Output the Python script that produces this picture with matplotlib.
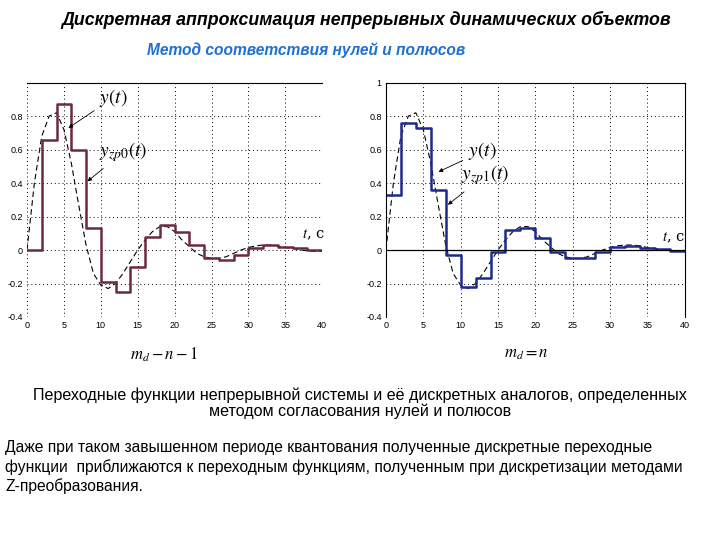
import numpy as np
import matplotlib
matplotlib.use("Agg")
import matplotlib.pyplot as plt

plt.rcParams["font.family"] = ["Liberation Sans", "DejaVu Sans"]
plt.rcParams["mathtext.fontset"] = "stix"

# continuous step response y(t), read at 1 s spacing
t_cont = np.arange(0, 41)
y_cont = [0.0, 0.40, 0.68, 0.80, 0.82, 0.72, 0.52, 0.27, 0.03, -0.14,
          -0.21, -0.23, -0.20, -0.14, -0.07, 0.0, 0.06, 0.11, 0.14, 0.14,
          0.11, 0.06, 0.02, -0.02, -0.04, -0.05, -0.05, -0.04, -0.02, 0.0,
          0.015, 0.025, 0.03, 0.03, 0.025, 0.015, 0.01, 0.0, -0.005, -0.008, -0.008]

# discrete responses, sample period 2 s
t_disc = np.arange(0, 42, 2)
y_zp0 = [0.0, 0.66, 0.87, 0.60, 0.13, -0.19, -0.25, -0.10, 0.08, 0.15,
         0.11, 0.03, -0.05, -0.06, -0.03, 0.01, 0.03, 0.02, 0.01, 0.0, 0.0]
y_zp1 = [0.33, 0.76, 0.73, 0.36, -0.03, -0.22, -0.17, -0.01, 0.12, 0.13,
         0.07, -0.01, -0.05, -0.045, -0.01, 0.02, 0.025, 0.015, 0.005, -0.005, -0.005]

fig = plt.figure(figsize=(7.2, 5.4), dpi=100)

fig.text(0.085, 0.963, "Дискретная аппроксимация непрерывных динамических объектов",
         fontsize=12.8, fontweight="bold", style="italic", va="center")
fig.text(0.204, 0.908, "Метод соответствия нулей и полюсов",
         fontsize=11.2, fontweight="bold", style="italic", color="#1f6fd6", va="center")


def panel(ax, yd, color, ylab, lab_pos, arr_y, arr_d, tc_pos, full_frame, yticks):
    ax.plot(t_cont, y_cont, color="black", lw=0.8, ls=(0, (5, 3)))
    ax.step(t_disc, yd, where="post", color=color, lw=1.8)
    ax.set_xlim(0, 40); ax.set_ylim(-0.4, 1.0)
    ax.set_xticks(range(0, 41, 5))
    ax.set_yticks(yticks)
    ax.set_yticklabels([f"{v:g}" for v in yticks])
    ax.tick_params(labelsize=6.5, length=0, pad=3)
    ax.grid(True, ls=(0, (1, 3)), color="black", lw=0.7)
    for s in ("left", "right", "bottom"):
        ax.spines[s].set_visible(False)
    if full_frame:
        ax.spines["left"].set_visible(True)
        ax.spines["right"].set_visible(True)
        ax.axhline(0, color="black", lw=0.9)
    ax.annotate("$y(t)$", xy=arr_y, xytext=lab_pos[0], fontsize=14,
                arrowprops=dict(arrowstyle="-|>", lw=0.6, color="black", mutation_scale=6))
    ax.annotate(ylab, xy=arr_d, xytext=lab_pos[1], fontsize=14,
                arrowprops=dict(arrowstyle="-|>", lw=0.6, color="black", mutation_scale=6))
    ax.text(tc_pos[0], tc_pos[1], "$t$, c", fontsize=10.5, family="DejaVu Serif")


ax1 = fig.add_axes([0.0375, 0.413, 0.41, 0.434])
panel(ax1, y_zp0, "#6b2b3f", r"$y_{zp0}(t)$", [(9.8, 0.88), (9.8, 0.56)],
      (5.3, 0.72), (7.9, 0.40), (37.2, 0.07), False,
      [-0.4, -0.2, 0, 0.2, 0.4, 0.6, 0.8])

ax2 = fig.add_axes([0.536, 0.413, 0.415, 0.434])
panel(ax2, y_zp1, "#1c2a8e", r"$y_{zp1}(t)$", [(11.0, 0.56), (10.0, 0.42)],
      (6.7, 0.46), (8.0, 0.26), (37.0, 0.05), True,
      [-0.4, -0.2, 0, 0.2, 0.4, 0.6, 0.8, 1])

fig.text(0.18, 0.343, r"$m_d - n - 1$", fontsize=12, va="center")
fig.text(0.70, 0.343, r"$m_d = n$", fontsize=12, va="center")

fig.text(0.5, 0.254, "Переходные функции непрерывной системы и её дискретных аналогов, определенных\n"
         "методом согласования нулей и полюсов",
         fontsize=11.6, ha="center", va="center", linespacing=1.05)

fig.text(0.007, 0.135, "Даже при таком завышенном периоде квантования полученные дискретные переходные\n"
         "функции  приближаются к переходным функциям, полученным при дискретизации методами\n"
         "Z-преобразования.",
         fontsize=11.25, ha="left", va="center", linespacing=1.3)

fig.savefig("out.png", dpi=100)
